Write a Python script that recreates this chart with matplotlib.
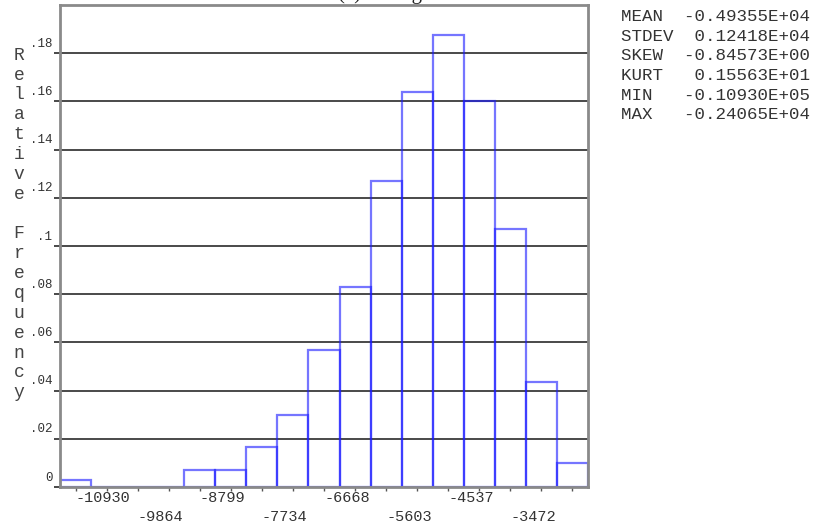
import numpy as np
import matplotlib
matplotlib.use('Agg')
import matplotlib.pyplot as plt

# Datos del histograma
data_min = -10930.0
data_max = -2406.5
rel_freq = [0.003, 0.0, 0.0, 0.0, 0.007, 0.007, 0.0167, 0.030, 0.0567,
            0.083, 0.127, 0.164, 0.1875, 0.160, 0.107, 0.0437, 0.010]
tick_vals = [-10930, -9864, -8799, -7734, -6668, -5603, -4537, -3472]
ytick_vals = [0, 0.02, 0.04, 0.06, 0.08, 0.1, 0.12, 0.14, 0.16, 0.18]
ytick_labels = ['0', '.02', '.04', '.06', '.08', '.1', '.12', '.14', '.16', '.18']
stat_names = ['MEAN', 'STDEV', 'SKEW', 'KURT', 'MIN', 'MAX']
stat_vals = ['-0.49355E+04', '0.12418E+04', '-0.84573E+00',
             '0.15563E+01', '-0.10930E+05', '-0.24065E+04']

mono = 'Liberation Mono'

# Centros de las clases
centers = np.linspace(data_min, data_max, len(rel_freq))
bw = centers[1] - centers[0]

fig = plt.figure(figsize=(8.14, 5.29), dpi=100, facecolor='white')
ax = fig.add_axes([60 / 814, 1 - 487 / 529, 528 / 814, 482 / 529])

# Rejilla horizontal
for v in ytick_vals[1:]:
    ax.axhline(v, color='#3a3a3a', lw=1.3, zorder=1)

ax.bar(centers, rel_freq, width=bw, fill=False,
       edgecolor=(0.1, 0.1, 1.0, 0.6), linewidth=1.6, zorder=2)

ax.set_xlim(data_min - bw / 2, data_max + bw / 2)
ax.set_ylim(0, 0.2)

for s in ax.spines.values():
    s.set_color('#8a8a8a')
    s.set_linewidth(2)

# Eje X: marcas en cada clase, etiquetas alternadas
ax.set_xticks(centers)
ax.set_xticklabels([])
ax.tick_params(axis='x', length=3, width=1, color='#555555', direction='out')
for i, v in enumerate(tick_vals):
    yoff = -0.009 if i % 2 == 0 else -0.048
    ax.text(v, yoff, str(v), transform=ax.get_xaxis_transform(),
            ha='left', va='top', fontsize=11, family=mono, color='#333333')

# Eje Y
ax.set_yticks(ytick_vals)
ax.set_yticklabels([])
ax.tick_params(axis='y', length=4, width=1.3, color='#3a3a3a', direction='out')
for v, lab in zip(ytick_vals, ytick_labels):
    ax.annotate(lab, xy=(0, v), xycoords=('axes fraction', 'data'),
                xytext=(-5.5, 2.5), textcoords='offset points',
                ha='right', va='bottom', fontsize=9, family=mono,
                color='#333333')

# Etiqueta vertical
ylab = '\n'.join('Relative Frequency')
fig.text(19 / 814, 1 - 224 / 529, ylab, ha='center', va='center',
         fontsize=13, family=mono, color='#444444', linespacing=1.22)

# Titulo (recortado en la parte superior)
fig.text(338 / 814, 1 + 1 / 529, '(a) Histogram', ha='left', va='baseline',
         fontsize=15, family='Liberation Serif', color='#222222')

# Estadisticos
stats = '\n'.join(f'{n:<5} {v:>12}' for n, v in zip(stat_names, stat_vals))
fig.text(621 / 814, 1 - 9 / 529, stats, ha='left', va='top',
         fontsize=12.6, family=mono, color='#333333', linespacing=1.39)

fig.savefig('out.png', dpi=100, facecolor='white')
